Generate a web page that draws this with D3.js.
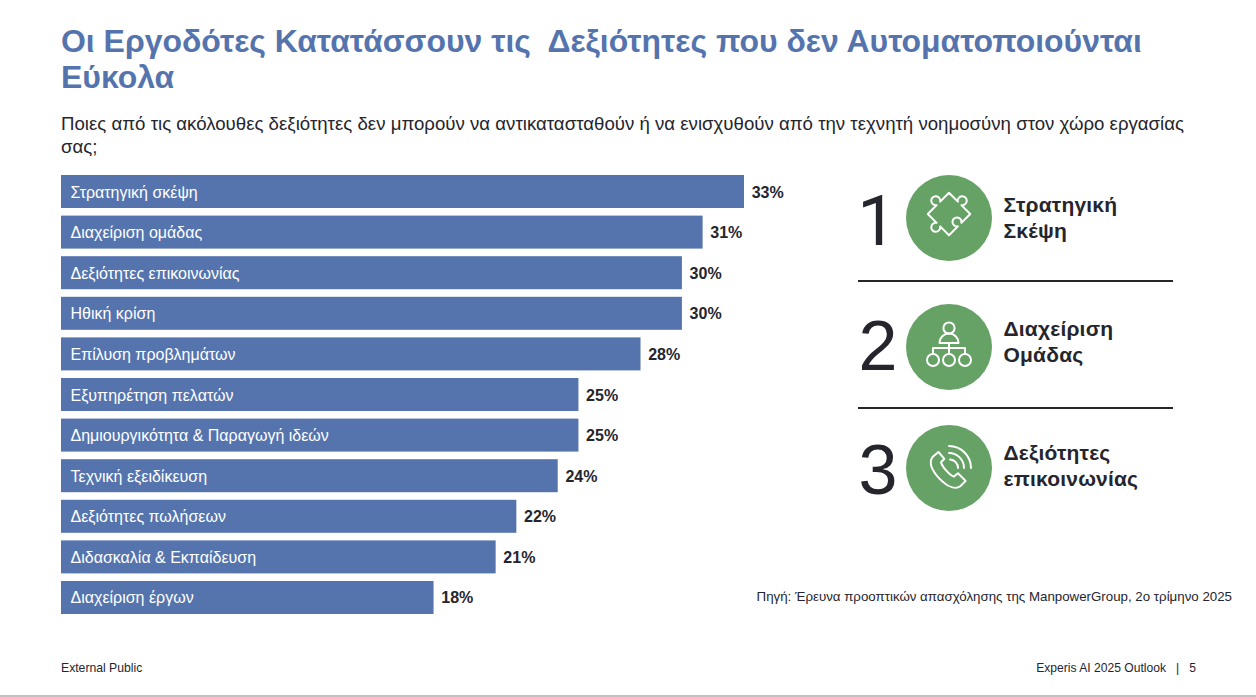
<!DOCTYPE html>
<html><head><meta charset="utf-8">
<script src="https://cdn.jsdelivr.net/npm/d3@7/dist/d3.min.js"></script>
<style>html,body{margin:0;padding:0;background:#fff}svg{display:block}text{font-family:"Liberation Sans",Arial,sans-serif}</style>
</head><body><svg id="c" width="1256" height="697"></svg>
<script>
const categories=["Στρατηγική σκέψη","Διαχείριση ομάδας","Δεξιότητες επικοινωνίας","Ηθική κρίση","Επίλυση προβλημάτων","Εξυπηρέτηση πελατών","Δημιουργικότητα & Παραγωγή ιδεών","Τεχνική εξειδίκευση","Δεξιότητες πωλήσεων","Διδασκαλία & Εκπαίδευση","Διαχείριση έργων"];
const values=[33,31,30,30,28,25,25,24,22,21,18];
const titleLines=["Οι Εργοδότες Κατατάσσουν τις  Δεξιότητες που δεν Αυτοματοποιούνται","Εύκολα"];
const subtitleLines=["Ποιες από τις ακόλουθες δεξιότητες δεν μπορούν να αντικατασταθούν ή να ενισχυθούν από την τεχνητή νοημοσύνη στον χώρο εργασίας","σας;"];
const rankNumbers=["1","2","3"];
const rankLabels=[["Στρατηγική","Σκέψη"],["Διαχείριση","Ομάδας"],["Δεξιότητες","επικοινωνίας"]];
const source="Πηγή: Έρευνα προοπτικών απασχόλησης της ManpowerGroup, 2ο τρίμηνο 2025";
const footerLeft="External Public", footerRight="Experis AI 2025 Outlook   |   5";

const BLUE="#5574ae",GREEN="#66a266",DARK="#25252d";
const svg=d3.select("#c");
const x=d3.scaleLinear().domain([0,33]).range([61,744]);
const y=d3.scaleBand().domain(categories).range([175,614]).paddingInner(0.187);

svg.append("g").selectAll("text").data(titleLines).join("text")
 .attr("x",61).attr("y",(d,i)=>52+i*36).attr("fill",BLUE).attr("font-size",31.95).attr("font-weight",700)
 .style("white-space","pre").text(d=>d);
svg.append("g").selectAll("text").data(subtitleLines).join("text")
 .attr("x",61).attr("y",(d,i)=>130+i*23).attr("fill",DARK).attr("font-size",18.65).text(d=>d);

const rows=svg.append("g").selectAll("g").data(categories).join("g");
rows.append("rect").attr("x",x(0)).attr("y",d=>y(d)).attr("height",y.bandwidth())
 .attr("width",(d,i)=>x(values[i])-x(0)).attr("fill",BLUE);
rows.append("text").attr("x",70.5).attr("y",d=>y(d)+y.bandwidth()/2+6).attr("fill","#fff").attr("font-size",16).text(d=>d);
rows.append("text").attr("x",(d,i)=>x(values[i])+7.7).attr("y",d=>y(d)+y.bandwidth()/2+6).attr("fill",DARK)
 .attr("font-size",16).attr("font-weight",700).text((d,i)=>values[i]+"%");

const cy=[218,347,468], numX=[877,878,878], numY=[245,370,494], ly=[205,329,453];
const rg=svg.append("g").selectAll("g").data(rankNumbers).join("g");
rg.append("text").attr("x",(d,i)=>numX[i]).attr("y",(d,i)=>numY[i]).attr("text-anchor","middle").attr("fill",DARK)
 .attr("font-size",70).style("font-family",(d,i)=>i===0?"Roboto":null).text(d=>d);
rg.append("circle").attr("cx",949).attr("cy",(d,i)=>cy[i]).attr("r",43).attr("fill",GREEN);
rg.each(function(d,i){
 d3.select(this).append("text").selectAll("tspan").data(rankLabels[i]).join("tspan")
  .attr("x",1003.5).attr("y",(t,j)=>ly[i]+7+j*25.6).attr("fill",DARK).attr("font-size",21).attr("font-weight",700)
  .style("letter-spacing","0.2px").text(t=>t);
});
svg.append("g").selectAll("line").data([281,408]).join("line")
 .attr("x1",858).attr("x2",1173).attr("y1",d=>d).attr("y2",d=>d).attr("stroke",DARK).attr("stroke-width",2);

const ic=(i)=>svg.append("g").attr("transform",`translate(949,${cy[i]})`).attr("fill","none").attr("stroke","#fff").attr("stroke-width",2).attr("stroke-linejoin","round").attr("stroke-linecap","round");
// puzzle piece
ic(0).append("path").attr("transform","translate(0,-4) rotate(45)")
 .attr("d","M-15,-15 H-2.5 A4.5,4.5 0 1 1 2.5,-15 H15 V-2.5 A4.5,4.5 0 1 0 15,2.5 V15 H2.5 A4.5,4.5 0 1 1 -2.5,15 H-15 V2.5 A4.5,4.5 0 1 1 -15,-2.5 Z");
// org chart
const g2=ic(1);
g2.append("circle").attr("cy",-19).attr("r",5.6);
g2.append("path").attr("d","M-9.5,-4 A9.5,9.5 0 0 1 9.5,-4 Z");
g2.append("path").attr("d","M0,-4 V1 M-16,7 V1 H16 V7 M0,1 V7");
[-16,0,16].forEach(cx=>g2.append("circle").attr("cx",cx).attr("cy",13).attr("r",6));
// phone
const g3=ic(2);
g3.append("path").attr("transform","translate(0.5,1) scale(0.85)").attr("stroke-width",2.35)
 .attr("d","M-13,-20 L-20,-14 C-26,-6 -18,6 -8,15 C0,22 8,24 13,20 L19,14 L10,5 L5,9 C0,7 -9,-3 -10,-8 L-6,-12 Z");
g3.append("path").attr("d","M1,-8.5 A8.5,8.5 0 0 1 9,0 M0,-15 A15,15 0 0 1 15,0 M0,-22 A22,22 0 0 1 22,0");

svg.append("text").attr("x",1232).attr("y",601).attr("text-anchor","end").attr("fill",DARK).attr("font-size",13.3).text(source);
svg.append("text").attr("x",61).attr("y",672).attr("fill",DARK).attr("font-size",12.2).text(footerLeft);
svg.append("text").attr("x",1196).attr("y",672).attr("text-anchor","end").attr("fill",DARK).attr("font-size",12.1).style("white-space","pre").text(footerRight);
svg.append("line").attr("x1",0).attr("x2",1256).attr("y1",696).attr("y2",696).attr("stroke","#c0c0c0").attr("stroke-width",2);
</script></body></html>
